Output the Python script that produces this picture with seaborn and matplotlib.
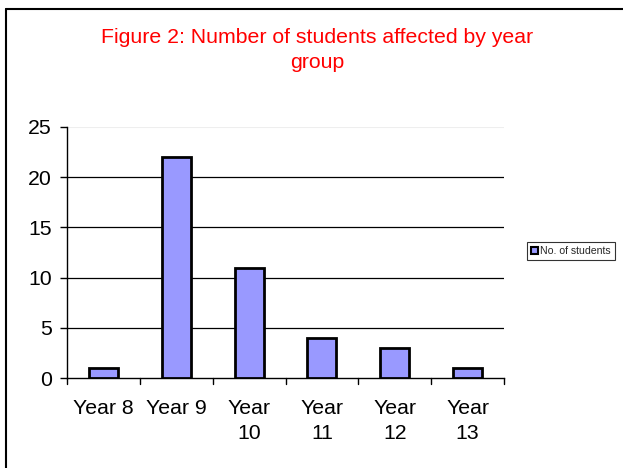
import matplotlib
matplotlib.use("Agg")
import matplotlib.pyplot as plt
from matplotlib.lines import Line2D
from matplotlib.patches import Patch
import seaborn as sns
import pandas as pd

categories = ["Year 8", "Year 9", "Year\n10", "Year\n11", "Year\n12", "Year\n13"]
students = [1, 22, 11, 4, 3, 1]
y_ticks = [0, 5, 10, 15, 20, 25]
series_name = "No. of students"
title = "Figure 2: Number of students affected by year\ngroup"

sns.set_theme(style="white")
plt.rcParams["font.family"] = ["Liberation Sans", "DejaVu Sans"]

df = pd.DataFrame({"group": categories, "count": students})

fig = plt.figure(figsize=(6.23, 4.68), dpi=100)
ax = fig.add_axes([67 / 623, 90 / 468, (504 - 67) / 623, (378 - 127) / 468])

sns.barplot(data=df, x="group", y="count", color="#9999FF", saturation=1,
            width=0.40, edgecolor="black", linewidth=2, ax=ax, zorder=3)

ax.set_ylim(0, 25)
ax.set_xlim(-0.5, len(categories) - 0.5)
ax.set_yticks(y_ticks)
ax.set_yticklabels([str(v) for v in y_ticks], fontsize=15.3, color="black")
ax.set_xticks(range(len(categories)))
ax.set_xticklabels(categories, fontsize=15.3, linespacing=1.4, color="black")
ax.tick_params(axis="x", length=0, pad=15)
ax.tick_params(axis="y", length=5, width=1, color="black", direction="out", left=True, pad=6)

# category boundary ticks below the x axis
for b in [i - 0.5 for i in range(len(categories) + 1)]:
    ax.add_line(Line2D([b, b], [0, -0.6], color="black", lw=1, clip_on=False, zorder=4))

for v in y_ticks[1:-1]:
    ax.axhline(v, color="black", lw=0.9, zorder=1)
ax.axhline(25, color="#eeeeee", lw=0.8, zorder=1)

for s in ["top", "right"]:
    ax.spines[s].set_visible(False)
ax.spines["left"].set_color("black")
ax.spines["bottom"].set_color("black")
ax.spines["left"].set_linewidth(1)
ax.spines["bottom"].set_linewidth(1)
ax.set_xlabel("")
ax.set_ylabel("")

fig.text(317 / 623, 1 - 50 / 468, title, color="red", fontsize=15.3,
         ha="center", va="center", linespacing=1.45)

handle = Patch(facecolor="#9999FF", edgecolor="black", linewidth=1.5)
fig.legend([handle], [series_name], loc="center left",
           bbox_to_anchor=(527 / 623, 1 - 251 / 468), fontsize=7.6,
           frameon=True, fancybox=False, edgecolor="black",
           handlelength=0.7, handleheight=0.7, handletextpad=0.2,
           borderpad=0.35, borderaxespad=0).get_frame().set_linewidth(0.8)

# outer frame of the figure
fig.add_artist(Line2D([6 / 623, 1], [1 - 9 / 468, 1 - 9 / 468],
                      transform=fig.transFigure, color="black", lw=1.5))
fig.add_artist(Line2D([6 / 623, 6 / 623], [0, 1 - 9 / 468],
                      transform=fig.transFigure, color="black", lw=1.5))

fig.savefig("out.png", dpi=100, facecolor="white")
